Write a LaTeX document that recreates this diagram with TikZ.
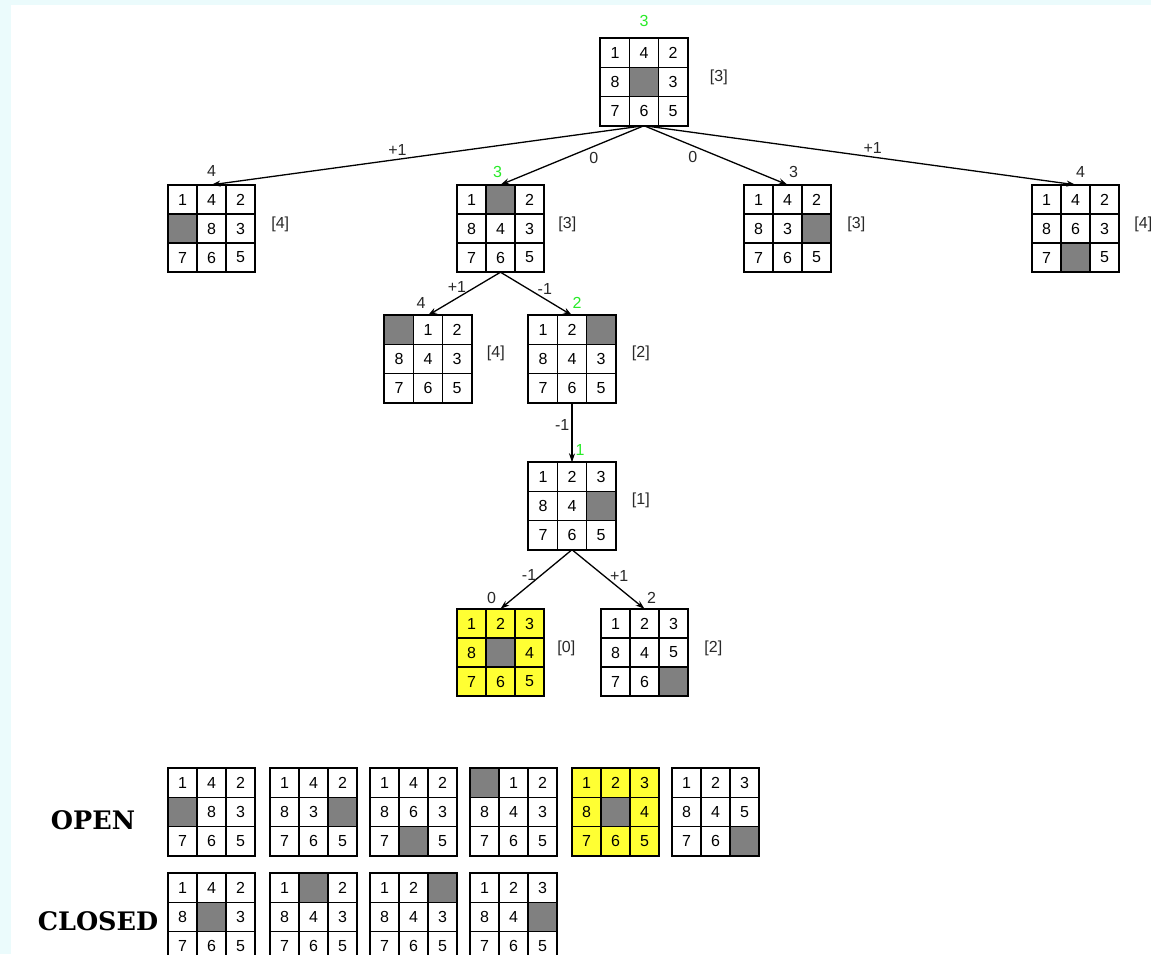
\documentclass[tikz,border=0pt]{standalone}
\usepackage{fontspec}
\setmainfont{Liberation Sans}
\newfontfamily\listfont{DejaVu Serif}
\usetikzlibrary{arrows.meta,calc}

\definecolor{pagebg}{RGB}{235,251,252}
\definecolor{goalyellow}{RGB}{255,255,51}
\definecolor{blankgray}{RGB}{128,128,128}
\definecolor{costgreen}{RGB}{40,235,40}
\definecolor{ink}{RGB}{40,40,40}

\tikzset{
  cell/.style={draw, line width=1.3pt, minimum size=29pt, inner sep=0pt,
    font=\fontsize{16}{16}\selectfont},
  holder/.style={minimum size=87pt, inner sep=0pt},
  frame/.style={line width=1.8pt},
  edge/.style={line width=1.3pt, black, -{Stealth[length=9pt,width=6pt]}},
  cost/.style={font=\fontsize{16}{16}\selectfont, text=ink, inner sep=0pt},
  goalcost/.style={cost, text=costgreen},
  heur/.style={font=\fontsize{16}{16}\selectfont, text=ink, anchor=west, inner sep=2pt},
  move/.style={font=\fontsize{16}{16}\selectfont, text=ink, inner sep=1pt},
  listname/.style={font=\listfont\bfseries\fontsize{25.5}{25.5}\selectfont, inner sep=0pt},
}

% \puzzle[fill]{name}{centre}{nine entries, 0 = blank}
\newcommand\puzzle[4][white]{%
  \node[holder] (#2) at (#3) {};
  \foreach \v [count=\i from 0] in {#4}{%
    \pgfmathsetmacro\dx{(mod(\i,3)-1)*29}%
    \pgfmathsetmacro\dy{(1-div(\i,3))*29}%
    \ifnum\v=0
      \node[cell, fill=blankgray] (#2-\i) at ([xshift=\dx pt, yshift=\dy pt]#2.center) {};
    \else
      \node[cell, fill=#1] (#2-\i) at ([xshift=\dx pt, yshift=\dy pt]#2.center) {\v};
    \fi
  }%
  \draw[frame] (#2.north west) rectangle (#2.south east);
}

\begin{document}
\begin{tikzpicture}[x=1pt,y=-1pt]
  % page
  \fill[pagebg] (0,0) rectangle (1151,954);
  \fill[white] (11,5) rectangle (1151,954);
  \useasboundingbox (0,0) rectangle (1151,954);

  % search tree
  \puzzle{root}{644,82}{1,4,2,8,0,3,7,6,5}
  \puzzle{a}{211.5,228.5}{1,4,2,0,8,3,7,6,5}
  \puzzle{b}{500.5,228.5}{1,0,2,8,4,3,7,6,5}
  \puzzle{c}{787.5,228.5}{1,4,2,8,3,0,7,6,5}
  \puzzle{d}{1075.5,228.5}{1,4,2,8,6,3,7,0,5}
  \puzzle{e}{428,359}{0,1,2,8,4,3,7,6,5}
  \puzzle{f}{572,359}{1,2,0,8,4,3,7,6,5}
  \puzzle{g}{572,506}{1,2,3,8,4,0,7,6,5}
  \puzzle[goalyellow]{h}{500.5,652.5}{1,2,3,8,0,4,7,6,5}
  \puzzle{i}{644.5,652.5}{1,2,3,8,4,5,7,6,0}

  % moves
  \draw[edge] (root.south) -- (a.north) node[move, pos=.57, above=2pt] {+1};
  \draw[edge] (root.south) -- (b.north) node[move, pos=.35, below=4pt] {0};
  \draw[edge] (root.south) -- (c.north) node[move, pos=.34, below=4pt] {0};
  \draw[edge] (root.south) -- (d.north) node[move, pos=.53, above=2pt] {+1};
  \draw[edge] (b.south) -- (e.north) node[move, pos=.6, above=4pt] {+1};
  \draw[edge] (b.south) -- (f.north) node[move, pos=.62, above=3pt] {-1};
  \draw[edge] (f.south) -- (g.north) node[move, pos=.37, left=1pt] {-1};
  \draw[edge] (g.south) -- (h.north) node[move, pos=.6, above=3pt] {-1};
  \draw[edge] (g.south) -- (i.north) node[move, pos=.65, above=5pt] {+1};

  % path costs
  \node[goalcost] (root-g) at ([yshift=17pt]root.north) {3};
  \node[cost] (a-g) at ([yshift=14pt]a.north) {4};
  \node[goalcost] (b-g) at ([xshift=-3pt,yshift=13pt]b.north) {3};
  \node[cost] (c-g) at ([xshift=6pt,yshift=13pt]c.north) {3};
  \node[cost] (d-g) at ([xshift=5pt,yshift=13pt]d.north) {4};
  \node[cost] (e-g) at ([xshift=-7pt,yshift=12pt]e.north) {4};
  \node[goalcost] (f-g) at ([xshift=5pt,yshift=12pt]f.north) {2};
  \node[goalcost] (g-g) at ([xshift=8pt,yshift=12pt]g.north) {1};
  \node[cost] (h-g) at ([xshift=-9pt,yshift=11pt]h.north) {0};
  \node[cost] (i-g) at ([xshift=7pt,yshift=11pt]i.north) {2};

  % estimates
  \node[heur] (root-h) at ([xshift=20pt,yshift=5pt]root.east) {[3]};
  \node[heur] (a-h) at ([xshift=14pt,yshift=4pt]a.east) {[4]};
  \node[heur] (b-h) at ([xshift=12pt,yshift=4pt]b.east) {[3]};
  \node[heur] (c-h) at ([xshift=14pt,yshift=4pt]c.east) {[3]};
  \node[heur] (d-h) at ([xshift=13pt,yshift=4pt]d.east) {[4]};
  \node[heur] (e-h) at ([xshift=13pt,yshift=6pt]e.east) {[4]};
  \node[heur] (f-h) at ([xshift=14pt,yshift=6pt]f.east) {[2]};
  \node[heur] (g-h) at ([xshift=14pt,yshift=6pt]g.east) {[1]};
  \node[heur] (h-h) at ([xshift=11pt,yshift=4pt]h.east) {[0]};
  \node[heur] (i-h) at ([xshift=14pt,yshift=4pt]i.east) {[2]};

  % OPEN list
  \node[listname] (open) at (93,820) {OPEN};
  \puzzle{o1}{211.5,812}{1,4,2,0,8,3,7,6,5}
  \puzzle{o2}{313.5,812}{1,4,2,8,3,0,7,6,5}
  \puzzle{o3}{413.5,812}{1,4,2,8,6,3,7,0,5}
  \puzzle{o4}{513.5,812}{0,1,2,8,4,3,7,6,5}
  \puzzle[goalyellow]{o5}{615.5,812}{1,2,3,8,0,4,7,6,5}
  \puzzle{o6}{715.5,812}{1,2,3,8,4,5,7,6,0}

  % CLOSED list
  \node[listname] (closed) at (98,921) {CLOSED};
  \puzzle{c1}{211.5,917}{1,4,2,8,0,3,7,6,5}
  \puzzle{c2}{313.5,917}{1,0,2,8,4,3,7,6,5}
  \puzzle{c3}{413.5,917}{1,2,0,8,4,3,7,6,5}
  \puzzle{c4}{513.5,917}{1,2,3,8,4,0,7,6,5}
\end{tikzpicture}
\end{document}
